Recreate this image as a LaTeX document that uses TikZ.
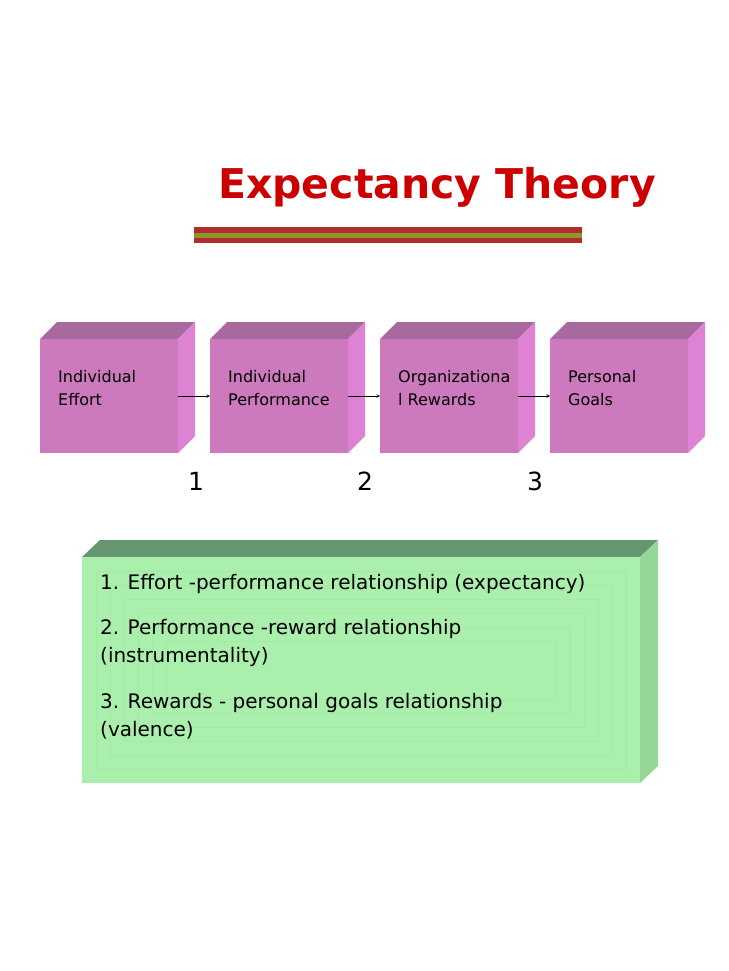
\documentclass[tikz,border=0pt]{standalone}
\usepackage{fontspec}
\setmainfont{DejaVu Sans}
\definecolor{pfront}{RGB}{204,121,189}
\definecolor{ptop}{RGB}{168,106,158}
\definecolor{pside}{RGB}{222,130,212}
\definecolor{gfront}{RGB}{170,240,172}
\definecolor{gtop}{RGB}{102,150,112}
\definecolor{gside}{RGB}{150,215,152}
\definecolor{gline}{RGB}{164,234,166}
\definecolor{tred}{RGB}{204,0,0}
\definecolor{sred}{RGB}{178,44,44}
\definecolor{sgreen}{RGB}{140,150,40}
\begin{document}
\begin{tikzpicture}[x=1pt,y=-1pt,
  lbl/.style={anchor=north west,align=left,font=\fontsize{16}{23}\selectfont,inner sep=0pt},
  num/.style={font=\fontsize{25}{28}\selectfont},
  gtxt/.style={anchor=north west,align=left,inner sep=0pt,font=\fontsize{20}{28}\selectfont},
  arr/.style={->,>=stealth,semithick}]
\useasboundingbox (0,0) rectangle (728,971);
\node[font=\fontsize{41}{48}\selectfont\bfseries,text=tred] (title) at (437,187) {Expectancy Theory};
\fill[sred] (194,227) rectangle (582,243);
\fill[sgreen] (194,232.5) rectangle (582,237.5);
\foreach \i/\x/\t in {a/40/{Individual\\Effort},b/210/{Individual\\Performance},c/380/{Organizationa\\l Rewards},d/550/{Personal\\Goals}}{
  \fill[ptop] (\x,339) -- (\x+17,322) -- (\x+155,322) -- (\x+138,339) -- cycle;
  \fill[pside] (\x+138,339) -- (\x+155,322) -- (\x+155,436) -- (\x+138,453) -- cycle;
  \fill[pfront] (\x,339) rectangle (\x+138,453);
  \node[lbl] (\i) at (\x+18,370) {\t};
  \coordinate (\i out) at (\x+138,396);
  \coordinate (\i in) at (\x,396);
}
\draw[arr] (aout) -- (bin);
\draw[arr] (bout) -- (cin);
\draw[arr] (cout) -- (din);
\node[num] (n1) at (196,481) {1};
\node[num] (n2) at (365,481) {2};
\node[num] (n3) at (535,481) {3};
\fill[gtop] (82,557) -- (100,540) -- (658,540) -- (640,557) -- cycle;
\fill[gside] (640,557) -- (658,540) -- (658,766) -- (640,783) -- cycle;
\fill[gfront] (82,557) rectangle (640,783);
\foreach \k in {1,...,6}{
  \draw[gline,line width=0.5pt] (82+\k*14,557+\k*14) rectangle (640-\k*14,783-\k*14);
}
\node[gtxt] (t1) at (100,574) {1. Effort -performance relationship (expectancy)};
\node[gtxt] (t2) at (100,619) {2. Performance -reward relationship\\(instrumentality)};
\node[gtxt] (t3) at (100,693) {3. Rewards - personal goals relationship\\(valence)};
\end{tikzpicture}
\end{document}
